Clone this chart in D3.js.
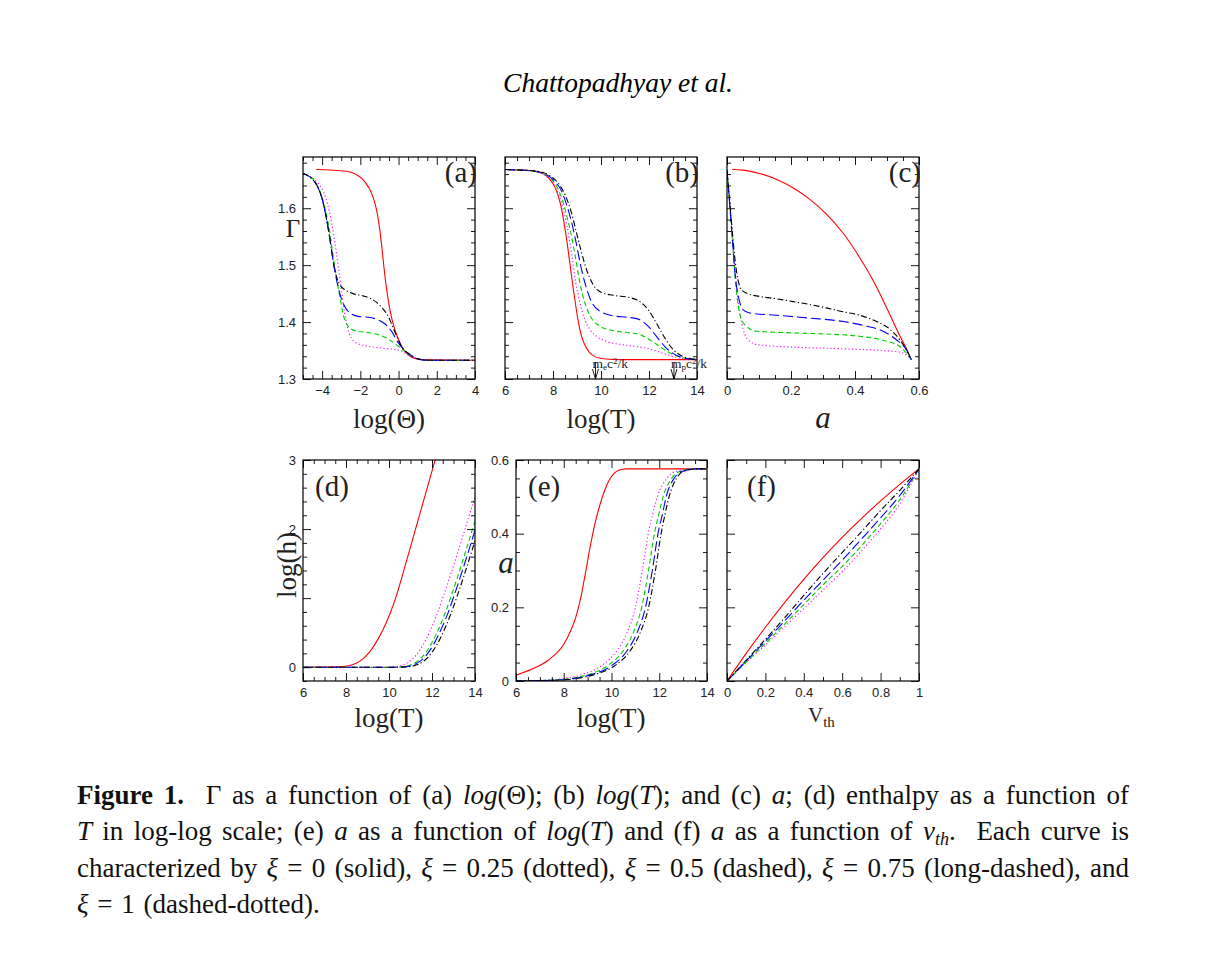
<!DOCTYPE html>
<html>
<head>
<meta charset="utf-8">
<script src="https://cdn.jsdelivr.net/npm/d3@7"></script>
<style>
  body { margin: 0; background: #fff; }
  svg { display: block; }
  text { white-space: pre; }
</style>
</head>
<body>
<div id="figure"></div>
<script>
// Gamma, enthalpy and a for five values of xi (six panels)

const width = 1210,
    height = 954;

// curve order in every panel: xi = 0, 0.25, 0.5, 0.75, 1
const xiValues = [0, 0.25, 0.5, 0.75, 1];
const lineColors = ["#ff0000", "#ff00ff", "#00cc00", "#0000ff", "#000000"];
const lineDashes = [null, "1.2,2.4", "5,3", "10,4", "6,2.5,1.2,2.5"];

// tick labels
const gammaTicks = [1.3, 1.4, 1.5, 1.6];
const logThetaTicks = [-4, -2, 0, 2, 4];
const logTTicks = [6, 8, 10, 12, 14];
const aTicks = [0, 0.2, 0.4, 0.6];
const logHTicks = [0, 2, 3];
const vthTicks = [0, 0.2, 0.4, 0.6, 0.8, 1];

// (a) Gamma vs log(Theta)
const gammaLogTheta = [
  [[-4.30,1.668],[-2.73,1.665],[-2.20,1.659],[-1.85,1.650],[-1.59,1.638],[-1.42,1.627],[-1.24,1.609],[-1.12,1.592],[-0.98,1.562],[-0.86,1.527],[-0.77,1.498],[-0.67,1.469],[-0.54,1.439],[-0.42,1.416],[-0.25,1.393],[-0.07,1.375],[0.16,1.357],[0.42,1.346],[0.77,1.337],[1.29,1.334],[4.0,1.333]],
  [[-5,1.661],[-4.65,1.656],[-4.30,1.647],[-4.04,1.636],[-3.81,1.618],[-3.64,1.597],[-3.50,1.574],[-3.37,1.548],[-3.25,1.521],[-3.13,1.492],[-2.99,1.457],[-2.85,1.422],[-2.69,1.393],[-2.47,1.372],[-2.12,1.362],[-1.50,1.357],[-0.81,1.354],[-0.28,1.352],[0.16,1.349],[0.59,1.340],[1.03,1.335],[1.47,1.333],[4,1.333]],
  [[-5,1.661],[-4.69,1.656],[-4.42,1.649],[-4.16,1.634],[-3.99,1.618],[-3.85,1.600],[-3.72,1.580],[-3.58,1.554],[-3.46,1.524],[-3.34,1.498],[-3.20,1.469],[-3.04,1.439],[-2.87,1.410],[-2.64,1.393],[-2.29,1.385],[-1.68,1.382],[-1.07,1.378],[-0.63,1.372],[-0.19,1.362],[0.16,1.353],[0.59,1.342],[0.94,1.336],[1.47,1.333],[4,1.333]],
  [[-5,1.661],[-4.74,1.657],[-4.48,1.650],[-4.21,1.636],[-4.04,1.621],[-3.90,1.603],[-3.78,1.583],[-3.64,1.556],[-3.51,1.527],[-3.39,1.501],[-3.25,1.475],[-3.08,1.451],[-2.87,1.431],[-2.55,1.416],[-2.12,1.410],[-1.50,1.408],[-1.07,1.404],[-0.72,1.397],[-0.37,1.384],[-0.02,1.364],[0.24,1.353],[0.59,1.343],[0.94,1.336],[1.47,1.333],[4,1.333]],
  [[-5,1.661],[-4.74,1.657],[-4.48,1.650],[-4.21,1.636],[-4.04,1.621],[-3.90,1.603],[-3.78,1.583],[-3.64,1.556],[-3.51,1.527],[-3.39,1.501],[-3.25,1.480],[-3.08,1.466],[-2.82,1.457],[-2.38,1.450],[-1.85,1.446],[-1.50,1.442],[-1.16,1.435],[-0.81,1.423],[-0.54,1.410],[-0.28,1.390],[-0.02,1.369],[0.24,1.353],[0.59,1.343],[0.94,1.336],[1.47,1.333],[4,1.333]]
];

// (b) Gamma vs log(T)
const gammaLogT = [
  [[6.00,1.668],[6.76,1.667],[7.32,1.665],[7.66,1.659],[7.94,1.647],[8.15,1.630],[8.32,1.606],[8.45,1.577],[8.59,1.539],[8.70,1.504],[8.81,1.469],[8.93,1.434],[9.04,1.404],[9.19,1.375],[9.40,1.354],[9.67,1.341],[10.02,1.336],[10.64,1.334],[14,1.334]],
  [[6.00,1.668],[6.90,1.667],[7.46,1.662],[7.80,1.653],[8.08,1.638],[8.32,1.615],[8.50,1.586],[8.66,1.551],[8.81,1.510],[8.95,1.469],[9.12,1.434],[9.33,1.404],[9.54,1.387],[9.81,1.375],[10.23,1.366],[10.92,1.360],[11.48,1.357],[11.89,1.354],[12.31,1.349],[12.72,1.343],[13.14,1.338],[13.70,1.335],[14,1.334]],
  [[6,1.668],[7.04,1.666],[7.59,1.661],[7.94,1.650],[8.22,1.633],[8.45,1.606],[8.63,1.577],[8.80,1.545],[8.95,1.510],[9.12,1.469],[9.33,1.434],[9.60,1.407],[9.95,1.393],[10.51,1.385],[11.20,1.381],[11.62,1.378],[12.03,1.369],[12.45,1.357],[12.86,1.346],[13.28,1.339],[13.70,1.335],[14,1.334]],
  [[6,1.668],[7.18,1.665],[7.73,1.659],[8.08,1.647],[8.36,1.630],[8.59,1.603],[8.80,1.571],[8.98,1.536],[9.16,1.498],[9.37,1.463],[9.60,1.436],[9.95,1.419],[10.51,1.411],[11.20,1.408],[11.62,1.404],[11.96,1.393],[12.31,1.375],[12.66,1.357],[13.00,1.345],[13.42,1.337],[14,1.334]],
  [[6,1.668],[7.32,1.665],[7.87,1.657],[8.22,1.644],[8.50,1.624],[8.75,1.595],[8.95,1.562],[9.16,1.527],[9.40,1.492],[9.67,1.466],[10.02,1.452],[10.51,1.447],[11.20,1.443],[11.62,1.436],[11.96,1.422],[12.31,1.398],[12.66,1.372],[13.00,1.352],[13.35,1.341],[13.70,1.336],[14,1.334]]
];

// (c) Gamma vs a
const gammaA = [
  [[0.016,1.668],[0.050,1.667],[0.102,1.661],[0.154,1.651],[0.206,1.636],[0.258,1.616],[0.310,1.590],[0.363,1.556],[0.415,1.513],[0.467,1.462],[0.488,1.438],[0.519,1.401],[0.540,1.376],[0.560,1.354],[0.576,1.334]],
  [[0,1.667],[0.013,1.586],[0.023,1.510],[0.033,1.445],[0.046,1.398],[0.066,1.369],[0.097,1.360],[0.206,1.356],[0.310,1.354],[0.415,1.352],[0.488,1.350],[0.540,1.347],[0.566,1.340],[0.576,1.334]],
  [[0,1.667],[0.010,1.597],[0.019,1.527],[0.029,1.457],[0.042,1.410],[0.060,1.393],[0.092,1.384],[0.206,1.381],[0.310,1.379],[0.415,1.375],[0.488,1.368],[0.540,1.357],[0.576,1.334]],
  [[0,1.667],[0.008,1.609],[0.017,1.545],[0.025,1.486],[0.038,1.439],[0.050,1.422],[0.071,1.416],[0.154,1.412],[0.258,1.407],[0.363,1.401],[0.435,1.393],[0.488,1.384],[0.529,1.369],[0.560,1.352],[0.576,1.334]],
  [[0,1.667],[0.008,1.615],[0.017,1.556],[0.025,1.510],[0.034,1.475],[0.045,1.457],[0.060,1.451],[0.102,1.445],[0.154,1.441],[0.206,1.436],[0.258,1.431],[0.310,1.425],[0.363,1.418],[0.415,1.412],[0.467,1.401],[0.508,1.388],[0.540,1.369],[0.571,1.340],[0.576,1.334]]
];

// (d) log(h) vs log(T)
const logHLogT = [
  [[6,0],[7.55,0.005],[8.17,0.024],[8.49,0.060],[8.80,0.125],[9.11,0.225],[9.42,0.370],[9.73,0.550],[10.04,0.770],[10.35,1.040],[10.66,1.370],[10.97,1.710],[11.28,2.050],[11.59,2.390],[11.90,2.730],[12.21,3.070]],
  [[6,0],[9.88,0],[10.35,0.010],[10.66,0.034],[10.97,0.087],[11.28,0.183],[11.59,0.327],[11.90,0.519],[12.21,0.750],[12.52,1.019],[12.83,1.308],[13.15,1.611],[13.46,1.923],[13.77,2.236],[14.0,2.466]],
  [[6,0],[10.24,0],[10.71,0.010],[11.02,0.034],[11.33,0.087],[11.64,0.183],[11.95,0.327],[12.26,0.519],[12.57,0.750],[12.88,1.019],[13.19,1.308],[13.50,1.611],[13.81,1.923],[14.0,2.111]],
  [[6,0],[10.37,0],[10.83,0.010],[11.14,0.034],[11.45,0.087],[11.76,0.183],[12.07,0.327],[12.38,0.519],[12.70,0.750],[13.01,1.019],[13.32,1.308],[13.63,1.611],[13.94,1.923],[14.0,1.986]],
  [[6,0],[10.52,0],[10.99,0.010],[11.30,0.034],[11.61,0.087],[11.92,0.183],[12.23,0.327],[12.54,0.519],[12.85,0.750],[13.16,1.019],[13.47,1.308],[13.78,1.611],[14.0,1.832]]
];

// (e) a vs log(T)
const aLogT = [
  [[6.00,0.016],[6.70,0.033],[7.36,0.057],[8.02,0.102],[8.30,0.138],[8.50,0.172],[8.70,0.222],[8.90,0.290],[9.10,0.362],[9.30,0.425],[9.50,0.475],[9.70,0.515],[9.90,0.545],[10.10,0.563],[10.30,0.572],[10.60,0.576],[14,0.576]],
  [[6,0],[7.10,0.002],[8.02,0.007],[8.68,0.016],[9.61,0.043],[10.20,0.080],[10.67,0.134],[11.00,0.199],[11.29,0.300],[11.54,0.401],[11.73,0.455],[11.92,0.500],[12.32,0.550],[12.65,0.568],[13.31,0.576],[14,0.576]],
  [[6,0],[7.36,0.002],[8.29,0.007],[8.95,0.016],[9.87,0.043],[10.47,0.080],[10.93,0.134],[11.26,0.199],[11.55,0.300],[11.80,0.401],[11.99,0.455],[12.16,0.500],[12.52,0.550],[12.82,0.568],[13.44,0.576],[14,0.576]],
  [[6,0],[7.49,0.002],[8.42,0.007],[9.08,0.016],[10.03,0.043],[10.63,0.080],[11.09,0.134],[11.42,0.199],[11.71,0.300],[11.95,0.401],[12.14,0.455],[12.29,0.500],[12.62,0.550],[12.92,0.568],[13.51,0.576],[14,0.576]],
  [[6,0],[7.63,0.002],[8.55,0.007],[9.21,0.016],[10.17,0.043],[10.76,0.080],[11.22,0.134],[11.55,0.199],[11.84,0.300],[12.08,0.401],[12.25,0.455],[12.41,0.500],[12.72,0.550],[12.98,0.568],[13.58,0.576],[14,0.576]]
];

// (f) a vs v_th
const aVth = [
  [[0,0],[0.1,0.075],[0.2,0.146],[0.3,0.213],[0.4,0.276],[0.5,0.335],[0.6,0.390],[0.7,0.441],[0.8,0.489],[0.9,0.534],[1,0.576]],
  [[0,0],[0.101,0.051],[0.205,0.100],[0.309,0.152],[0.401,0.197],[0.500,0.247],[0.604,0.299],[0.700,0.353],[0.795,0.410],[0.899,0.480],[1,0.576]],
  [[0,0],[0.101,0.052],[0.205,0.105],[0.309,0.159],[0.401,0.208],[0.500,0.261],[0.604,0.313],[0.700,0.367],[0.795,0.424],[0.899,0.491],[1,0.576]],
  [[0,0],[0.101,0.055],[0.205,0.111],[0.309,0.168],[0.401,0.220],[0.500,0.274],[0.604,0.330],[0.700,0.385],[0.795,0.440],[0.899,0.503],[1,0.576]],
  [[0,0],[0.101,0.057],[0.205,0.116],[0.309,0.177],[0.401,0.233],[0.500,0.292],[0.604,0.351],[0.700,0.405],[0.795,0.460],[0.899,0.517],[1,0.576]]
];

// rest-mass temperatures marked in (b): log T and particle subscript
const restMassLogT = [9.77, 13.04];
const restMassSub = ["e", "p"];

const captionLines = [
  [["Figure 1.", "b"], ["  \u0393 as a function of (a) ", ""], ["log", "i"], ["(\u0398); (b) ", ""], ["log", "i"], ["(", ""], ["T", "i"], ["); and (c) ", ""], ["a", "i"], ["; (d) enthalpy as a function of", ""]],
  [["T", "i"], [" in log-log scale; (e) ", ""], ["a", "i"], [" as a function of ", ""], ["log", "i"], ["(", ""], ["T", "i"], [") and (f) ", ""], ["a", "i"], [" as a function of ", ""], ["v", "i"], ["th", "sub"], [".  Each curve is", ""]],
  [["characterized by ", ""], ["\u03be", "i"], [" = 0 (solid), ", ""], ["\u03be", "i"], [" = 0.25 (dotted), ", ""], ["\u03be", "i"], [" = 0.5 (dashed), ", ""], ["\u03be", "i"], [" = 0.75 (long-dashed), and", ""]],
  [["\u03be", "i"], [" = 1 (dashed-dotted).", ""]]
];

const serif = "'Liberation Serif', 'Times New Roman', serif";

const panels = [
  { name: "(a)", box: [303, 157, 475, 379], xDomain: [-5, 4], yDomain: [1.3, 1.69],
    xStep: [2, 0.5], yStep: [0.1, 0.02], xLabels: logThetaTicks, yLabels: gammaTicks, curves: gammaLogTheta },
  { name: "(b)", box: [505, 157, 697, 379], xDomain: [6, 14], yDomain: [1.3, 1.69],
    xStep: [2, 0.5], yStep: [0.1, 0.02], xLabels: logTTicks, yLabels: null, curves: gammaLogT },
  { name: "(c)", box: [727, 157, 919, 379], xDomain: [0, 0.6], yDomain: [1.3, 1.69],
    xStep: [0.2, 0.05], yStep: [0.1, 0.02], xLabels: aTicks, yLabels: null, curves: gammaA },
  { name: "(d)", box: [303, 460, 475, 681], xDomain: [6, 14], yDomain: [-0.2, 3],
    xStep: [2, 0.5], yStep: [1, 0.2], xLabels: logTTicks, yLabels: logHTicks, curves: logHLogT },
  { name: "(e)", box: [516, 460, 707, 681], xDomain: [6, 14], yDomain: [0, 0.6],
    xStep: [2, 0.5], yStep: [0.2, 0.05], xLabels: logTTicks, yLabels: aTicks, curves: aLogT },
  { name: "(f)", box: [727, 460, 919, 681], xDomain: [0, 1], yDomain: [0, 0.6],
    xStep: [0.2, 0.1], yStep: [0.2, 0.05], xLabels: vthTicks, yLabels: null, curves: aVth }
];

const svg = d3.select("#figure")
    .append("svg")
    .attr("width", width)
    .attr("height", height)
    .attr("viewBox", [0, 0, width, height]);

svg.append("text")
    .attr("x", 618)
    .attr("y", 92)
    .attr("text-anchor", "middle")
    .attr("font-family", serif)
    .attr("font-style", "italic")
    .attr("font-size", 27.5)
    .text("Chattopadhyay et al.");

function stepTicks(domain, step) {
  const out = [];
  const k0 = Math.ceil(domain[0] / step - 1e-9),
      k1 = Math.floor(domain[1] / step + 1e-9);
  for (let k = k0; k <= k1; k++) out.push(+(k * step).toFixed(6));
  return out;
}

function fmt(v) {
  return v < 0 ? "\u2212" + Math.abs(v) : String(v);
}

function addTicks(g, axisFn, scale, transform, values, size, labels) {
  const axis = axisFn(scale)
    .tickValues(values)
    .tickSize(-size)
    .tickSizeOuter(0)
    .tickPadding(7)
    .tickFormat(v => labels && labels.some(l => Math.abs(l - v) < 1e-9) ? fmt(v) : "");
  const a = g.append("g").attr("transform", transform).call(axis);
  a.select(".domain").remove();
  a.selectAll("line").attr("stroke", "#000").attr("stroke-width", 0.9);
  a.selectAll("text")
    .attr("font-family", "'Liberation Sans', Arial, sans-serif")
    .attr("font-size", 13)
    .attr("fill", "#222");
}

panels.forEach((p, i) => {
  const [x0, y0, x1, y1] = p.box;
  const x = d3.scaleLinear().domain(p.xDomain).range([x0, x1]);
  const y = d3.scaleLinear().domain(p.yDomain).range([y1, y0]);
  const g = svg.append("g");

  svg.append("clipPath")
    .attr("id", "clip" + i)
    .append("rect")
    .attr("x", x0).attr("y", y0)
    .attr("width", x1 - x0).attr("height", y1 - y0);

  const line = d3.line()
    .x(d => x(d[0]))
    .y(d => y(d[1]))
    .curve(d3.curveMonotoneX);

  g.append("g")
    .attr("clip-path", `url(#clip${i})`)
    .selectAll("path")
    .data(p.curves)
    .join("path")
    .attr("d", line)
    .attr("fill", "none")
    .attr("stroke", (d, k) => lineColors[k])
    .attr("stroke-width", 1.1)
    .attr("stroke-dasharray", (d, k) => lineDashes[k]);

  const xMajor = stepTicks(p.xDomain, p.xStep[0]),
      xMinor = stepTicks(p.xDomain, p.xStep[1]).filter(v => !xMajor.some(m => Math.abs(m - v) < 1e-9)),
      yMajor = stepTicks(p.yDomain, p.yStep[0]),
      yMinor = stepTicks(p.yDomain, p.yStep[1]).filter(v => !yMajor.some(m => Math.abs(m - v) < 1e-9));

  addTicks(g, d3.axisBottom, x, `translate(0,${y1})`, xMajor, 8, p.xLabels);
  addTicks(g, d3.axisBottom, x, `translate(0,${y1})`, xMinor, 4, null);
  addTicks(g, d3.axisTop, x, `translate(0,${y0})`, xMajor, 8, null);
  addTicks(g, d3.axisTop, x, `translate(0,${y0})`, xMinor, 4, null);
  addTicks(g, d3.axisLeft, y, `translate(${x0},0)`, yMajor, 8, p.yLabels);
  addTicks(g, d3.axisLeft, y, `translate(${x0},0)`, yMinor, 4, null);
  addTicks(g, d3.axisRight, y, `translate(${x1},0)`, yMajor, 8, null);
  addTicks(g, d3.axisRight, y, `translate(${x1},0)`, yMinor, 4, null);

  g.append("rect")
    .attr("x", x0).attr("y", y0)
    .attr("width", x1 - x0).attr("height", y1 - y0)
    .attr("fill", "none")
    .attr("stroke", "#000")
    .attr("stroke-width", 1.2);

  const top = i < 3;
  g.append("text")
    .attr("x", top ? x1 + 2 : x0 + (i === 5 ? 20 : 12))
    .attr("y", top ? y0 + 25 : y0 + 36)
    .attr("text-anchor", top ? "end" : "start")
    .attr("font-family", serif)
    .attr("font-size", 29)
    .attr("fill", "#222")
    .text(p.name);

  p.x = x; p.y = y;
});

// axis titles
function title(xc, yb, str, opts = {}) {
  return svg.append("text")
    .attr("x", xc).attr("y", yb)
    .attr("text-anchor", "middle")
    .attr("font-family", serif)
    .attr("font-size", opts.size || 27)
    .attr("font-style", opts.italic ? "italic" : null)
    .attr("fill", "#222")
    .text(str);
}
title(389, 428, "log(\u0398)");
title(601, 428, "log(T)");
title(823, 428, "a", { italic: true, size: 31 });
title(389, 727, "log(T)");
title(611, 727, "log(T)");
title(293, 237, "\u0393", { size: 25 });
title(506, 573, "a", { italic: true, size: 31 });

svg.append("text")
    .attr("transform", "translate(296,565) rotate(-90)")
    .attr("text-anchor", "middle")
    .attr("font-family", serif)
    .attr("font-size", 27)
    .attr("fill", "#222")
    .text("log(h)");

const vth = svg.append("text")
    .attr("x", 808).attr("y", 722)
    .attr("font-family", serif)
    .attr("font-size", 21)
    .attr("fill", "#222");
vth.append("tspan").text("V");
vth.append("tspan").attr("font-size", 15).attr("dy", 5).text("th");

// rest-mass markers on (b)
const pb = panels[1];
restMassLogT.forEach((t, k) => {
  const xa = pb.x(t), yb = pb.box[3];
  svg.append("path")
    .attr("d", `M${xa},${yb - 17}L${xa},${yb}M${xa - 3},${yb - 10}L${xa},${yb}L${xa + 3},${yb - 10}`)
    .attr("fill", "none")
    .attr("stroke", "#000")
    .attr("stroke-width", 0.9);
  const t0 = svg.append("text")
    .attr("x", xa - 3).attr("y", yb - 11)
    .attr("font-family", serif)
    .attr("font-size", 13.5)
    .attr("fill", "#222");
  t0.append("tspan").text("m");
  t0.append("tspan").attr("font-size", 9).attr("dy", 2).text(restMassSub[k]);
  t0.append("tspan").attr("dy", -2).text("c");
  t0.append("tspan").attr("font-size", 9).attr("dy", -4).text("2");
  t0.append("tspan").attr("dy", 4).text("/k");
});

// caption, justified between x = 77 and x = 1129
const captionTop = 804, captionStep = 36.4, captionWidth = 1129 - 77;
captionLines.forEach((segs, li) => {
  const t = svg.append("text")
    .attr("x", 77)
    .attr("y", captionTop + li * captionStep)
    .attr("font-family", serif)
    .attr("font-size", 27)
    .attr("fill", "#111");
  let shifted = false;
  segs.forEach(([s, style]) => {
    const ts = t.append("tspan").text(s);
    if (style === "b") ts.attr("font-weight", "bold");
    if (style === "i") ts.attr("font-style", "italic");
    if (style === "sub") {
      ts.attr("font-style", "italic").attr("font-size", 18).attr("dy", 5);
      shifted = true;
    } else if (shifted) {
      ts.attr("dy", -5);
      shifted = false;
    }
  });
  const spaces = segs.map(d => d[0]).join("").split(" ").length - 1;
  if (li < captionLines.length - 1) {
    const natural = t.node().getComputedTextLength();
    t.attr("word-spacing", (captionWidth - natural) / spaces);
  } else {
    t.attr("word-spacing", 2);
  }
});
</script>
</body>
</html>
